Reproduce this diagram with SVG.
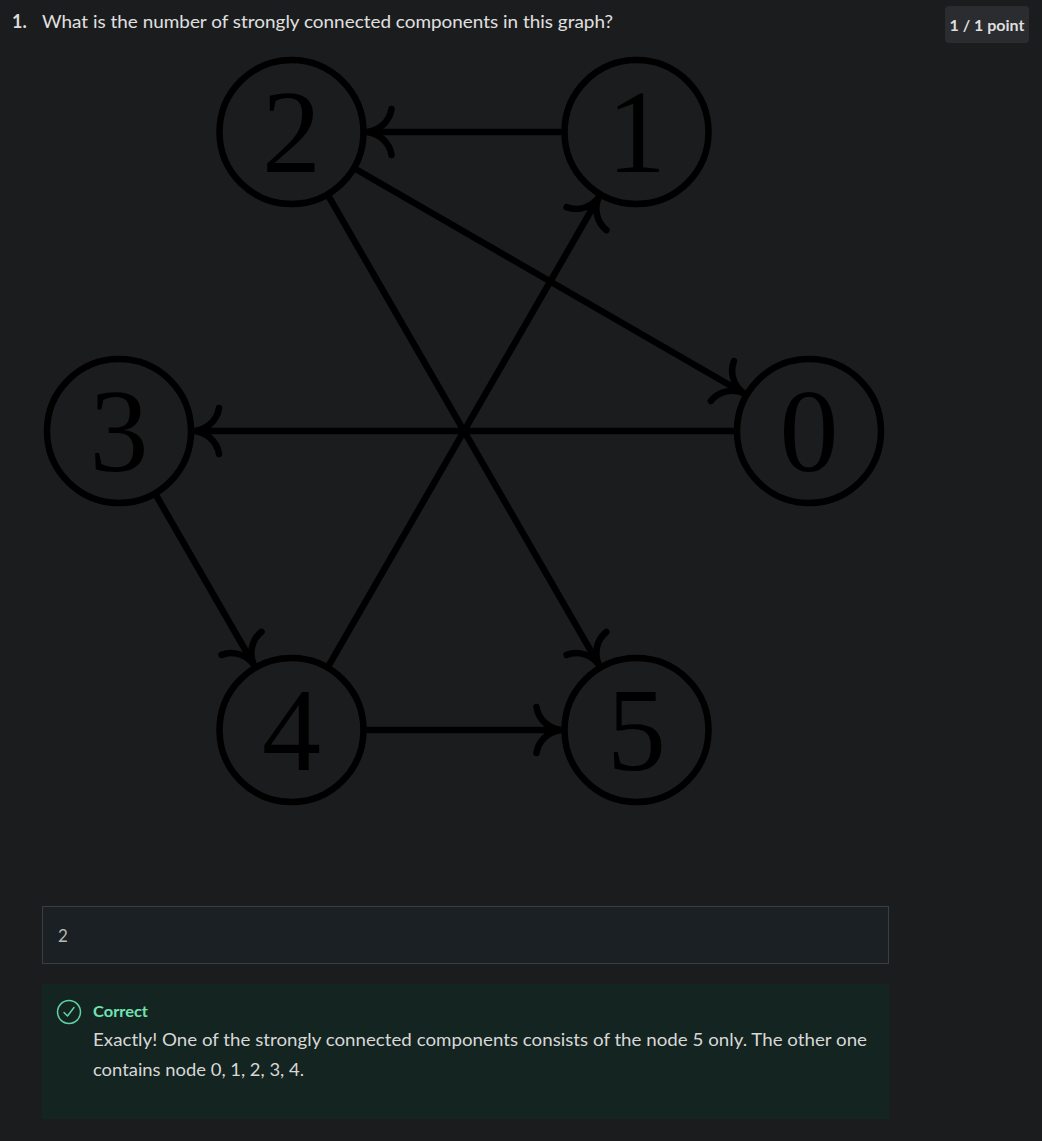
<svg xmlns="http://www.w3.org/2000/svg" width="1042" height="1141" viewBox="0 0 1042 1141">
  <style>
    .node circle { fill: none; stroke: #000; stroke-width: 6.5; }
    .node text { font-family: "Liberation Serif", "DejaVu Serif", serif; font-size: 118px; fill: #000; text-anchor: middle; }
    .edge { stroke: #000; stroke-width: 6.5; fill: none; marker-end: url(#to); }
    .ui { font-family: Lato, "Noto Sans", "Liberation Sans", sans-serif; }
  </style>
  <defs>
    <marker id="to" viewBox="-30 -28 36 56" refX="-2" refY="0" markerWidth="36" markerHeight="56" markerUnits="userSpaceOnUse" orient="auto" overflow="visible">
      <path d="M -25,-23 C -23,-10 -12,-1 0,0 C -12,1 -23,10 -25,23" fill="none" stroke="#000" stroke-width="6.5" stroke-linecap="round"/>
    </marker>
  </defs>

  <rect width="1042" height="1141" fill="#1b1c1e"/>

  <g id="header" class="ui">
    <text x="12" y="28" font-size="18" font-weight="bold" fill="#dcdcdc">1.</text>
    <text x="42" y="28" font-size="18" fill="#e0e0e0" textLength="571" lengthAdjust="spacingAndGlyphs">What is the number of strongly connected components in this graph?</text>
    <rect x="945" y="6" width="84" height="37" rx="4" fill="#2a2c2f"/>
    <text x="987" y="31" font-size="16" font-weight="bold" fill="#dedede" text-anchor="middle" textLength="75" lengthAdjust="spacingAndGlyphs">1 / 1 point</text>
  </g>

  <g id="connectors">
    <line class="edge" x1="561.5" y1="132" x2="368.5" y2="132"/>
    <line class="edge" x1="356.45" y1="169.5" x2="742.32" y2="392.5"/>
    <line class="edge" x1="329" y1="196.95" x2="598" y2="663.32"/>
    <line class="edge" x1="734" y1="431" x2="196" y2="431"/>
    <line class="edge" x1="156.5" y1="495.95" x2="253" y2="663.32"/>
    <line class="edge" x1="329" y1="665.05" x2="598" y2="198.68"/>
    <line class="edge" x1="366.5" y1="730" x2="559.5" y2="730"/>
  </g>

  <g id="node0" class="node"><circle cx="809" cy="431" r="72"/><text x="809" y="471">0</text></g>
  <g id="node1" class="node"><circle cx="636.5" cy="132" r="72"/><text x="636.5" y="172">1</text></g>
  <g id="node2" class="node"><circle cx="291.5" cy="132" r="72"/><text x="291.5" y="172">2</text></g>
  <g id="node3" class="node"><circle cx="119" cy="431" r="72"/><text x="119" y="471">3</text></g>
  <g id="node4" class="node"><circle cx="291.5" cy="730" r="72"/><text x="291.5" y="770">4</text></g>
  <g id="node5" class="node"><circle cx="636.5" cy="730" r="72"/><text x="636.5" y="770">5</text></g>

  <g id="answer" class="ui">
    <rect x="42.5" y="906.5" width="846" height="57" fill="#1a2024" stroke="#3a3e42" stroke-width="1"/>
    <text x="58" y="942" font-size="17" fill="#b8b8b8">2</text>
  </g>

  <g id="feedback" class="ui">
    <rect x="42" y="984" width="847" height="135" fill="#142420"/>
    <circle cx="69" cy="1012" r="11.5" fill="none" stroke="#5fd3a3" stroke-width="1.5"/>
    <path d="M 64,1012.5 L 67.5,1016 L 74,1007.5" fill="none" stroke="#5fd3a3" stroke-width="1.5" stroke-linecap="round" stroke-linejoin="round"/>
    <text x="93" y="1017" font-size="16" font-weight="bold" fill="#72e2b2" textLength="55" lengthAdjust="spacingAndGlyphs">Correct</text>
    <text x="93" y="1046" font-size="18" fill="#d8d8d8" textLength="774" lengthAdjust="spacingAndGlyphs">Exactly! One of the strongly connected components consists of the node 5 only. The other one</text>
    <text x="93" y="1076" font-size="18" fill="#d8d8d8" textLength="211" lengthAdjust="spacingAndGlyphs">contains node 0, 1, 2, 3, 4.</text>
  </g>
</svg>
